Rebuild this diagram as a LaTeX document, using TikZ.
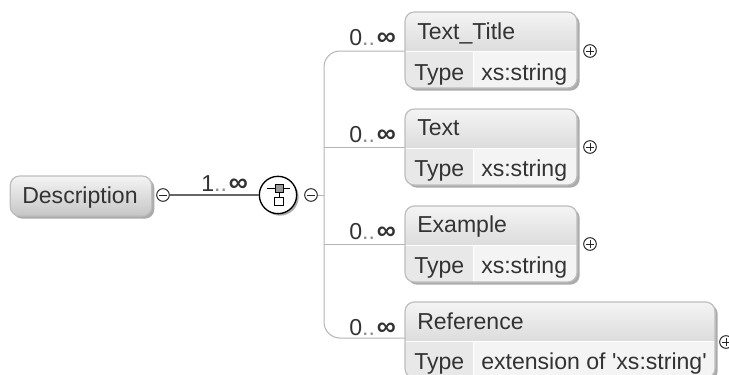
\documentclass[tikz,border=0pt]{standalone}
\usepackage{fontspec}
\setmainfont{Liberation Sans}
\usetikzlibrary{shadows}
\definecolor{edgegray}{HTML}{BDBDBD}
\definecolor{linegray}{HTML}{B4B4B4}
\definecolor{topgray}{HTML}{F4F4F4}
\definecolor{lowgray}{HTML}{C6C6C6}
\definecolor{typegray}{HTML}{E8E8E8}
\definecolor{valgray}{HTML}{F4F4F4}
\definecolor{inkgray}{HTML}{333333}
\newcommand{\manymark}{{\color{black!45}..}\kern1.5pt{\fontsize{20}{20}\selectfont\textbf{∞}}}
\tikzset{
  label text/.style={text=inkgray,inner sep=0pt,font=\fontsize{17.3}{20}\selectfont},
  elembox/.style={draw=edgegray,line width=.9pt,rounded corners=7pt,fill=white,inner sep=0pt,
    minimum height=57pt,drop shadow={shadow xshift=2pt,shadow yshift=-2pt,fill=black!55,opacity=.6},
    path picture={
      \shade[sharp corners,top color=topgray,bottom color=lowgray]
        (path picture bounding box.north west) rectangle ([yshift=-29pt]path picture bounding box.north east);
      \fill[sharp corners,typegray] ([yshift=-30pt]path picture bounding box.north west) rectangle ([xshift=51pt]path picture bounding box.south west);
      \fill[sharp corners,valgray] ([xshift=52pt,yshift=-30pt]path picture bounding box.north west) rectangle (path picture bounding box.south east);
    }},
  rootbox/.style={draw=edgegray,line width=.9pt,rounded corners=7pt,inner sep=0pt,
    minimum width=106pt,minimum height=30pt,top color=topgray,bottom color=lowgray,
    drop shadow={shadow xshift=2pt,shadow yshift=-2pt,fill=black!55,opacity=.6}},
  minusmark/.style={circle,draw=black!85,line width=.75pt,fill=white,inner sep=0pt,minimum size=9.5pt,
    path picture={\draw[line width=.75pt] ([xshift=-2.8pt]path picture bounding box.center) -- ([xshift=2.8pt]path picture bounding box.center);}},
  plusmark/.style={circle,draw=black!85,line width=.75pt,fill=white,inner sep=0pt,minimum size=9.5pt,
    path picture={\fill (path picture bounding box.center) circle (.9pt);
      \draw[line width=.7pt] ([xshift=-2.8pt]path picture bounding box.center) -- ([xshift=2.8pt]path picture bounding box.center)
        ([yshift=-2.8pt]path picture bounding box.center) -- ([yshift=2.8pt]path picture bounding box.center);}},
  branch/.style={draw=linegray,line width=.75pt}
}
\begin{document}
\begin{tikzpicture}[x=.75pt,y=-.75pt]
      \useasboundingbox (0,0) rectangle (729,375);
      \clip (0,0) rectangle (729,375);
      % branches first, boxes on top
      \coordinate (trunk) at (324,195);
      \coordinate (titlejoin) at (405,51);
      \coordinate (textjoin) at (405,147);
      \coordinate (examplejoin) at (405,244);
      \coordinate (referencejoin) at (405,338);
      \draw[branch,rounded corners=12pt] (titlejoin) -| (trunk) |- (referencejoin);
      \draw[branch] (trunk |- textjoin) -- (textjoin);
      \draw[branch] (trunk |- examplejoin) -- (examplejoin);
      \node[rootbox] (description) at (81,196) {};
      \node[label text,anchor=base west] (descriptionlabel) at (22,203) {Description};
      \node[minusmark] (descminus) at (163,195) {};
      \node[circle,draw=black,line width=1pt,fill=white,minimum size=28pt,inner sep=0pt,
        drop shadow={shadow xshift=1.5pt,shadow yshift=-1.5pt,fill=black!55,opacity=.6}] (sequence) at (278,195) {};
      \node[minusmark] (seqminus) at (311,195) {};
      \draw[line width=1.5pt,draw=black!60] (descminus) -- (sequence);
      \draw[branch] (seqminus) -- (trunk);
      % sequence icon
      \node[draw=black,line width=.6pt,fill=black!40,minimum size=6pt,inner sep=0pt] (seqtop) at (279,188.5) {};
      \node[draw=black,line width=.6pt,fill=white,minimum size=6.5pt,inner sep=0pt] (seqlow) at (279,201.5) {};
      \draw[line width=.6pt] (seqtop) -- (seqlow);
      \draw[line width=.6pt] (267,188.5) -- (seqtop);
      \draw[line width=.6pt] (seqtop) -- (290,188.5);
      \node[label text,anchor=base west] (onemany) at (201,191) {1\manymark};
      % element boxes
      \node[elembox,minimum width=129pt] (title) at (491,50) {};
      \node[elembox,minimum width=129pt] (text) at (491,147) {};
      \node[elembox,minimum width=129pt] (example) at (491,244) {};
      \node[elembox,minimum width=232.5pt] (reference) at (560,340) {};
      \node[plusmark] (titleplus) at (590,51) {};
      \node[plusmark] (textplus) at (590,147) {};
      \node[plusmark] (exampleplus) at (590,244) {};
      \node[plusmark] (referenceplus) at (726,342) {};
      \node[label text,anchor=base west] (titlename) at (417,39) {Text\_Title};
      \node[label text,anchor=base west] (textname) at (417,135) {Text};
      \node[label text,anchor=base west] (examplename) at (417,232) {Example};
      \node[label text,anchor=base west] (referencename) at (417,329) {Reference};
      \node[label text,anchor=base west] (titletype) at (414,80) {Type};
      \node[label text,anchor=base west] (texttype) at (414,176) {Type};
      \node[label text,anchor=base west] (exampletype) at (414,273) {Type};
      \node[label text,anchor=base west] (referencetype) at (414,369) {Type};
      \node[label text,anchor=base west] (titleval) at (481,80) {xs:string};
      \node[label text,anchor=base west] (textval) at (481,176) {xs:string};
      \node[label text,anchor=base west] (exampleval) at (481,273) {xs:string};
      \node[label text,anchor=base west] (referenceval) at (481,369) {extension of \textquotesingle xs:string\textquotesingle};
      \node[label text,anchor=base west] (titlemany) at (349,45) {0\manymark};
      \node[label text,anchor=base west] (textmany) at (349,142) {0\manymark};
      \node[label text,anchor=base west] (examplemany) at (349,239) {0\manymark};
      \node[label text,anchor=base west] (referencemany) at (349,335) {0\manymark};
\end{tikzpicture}
\end{document}
